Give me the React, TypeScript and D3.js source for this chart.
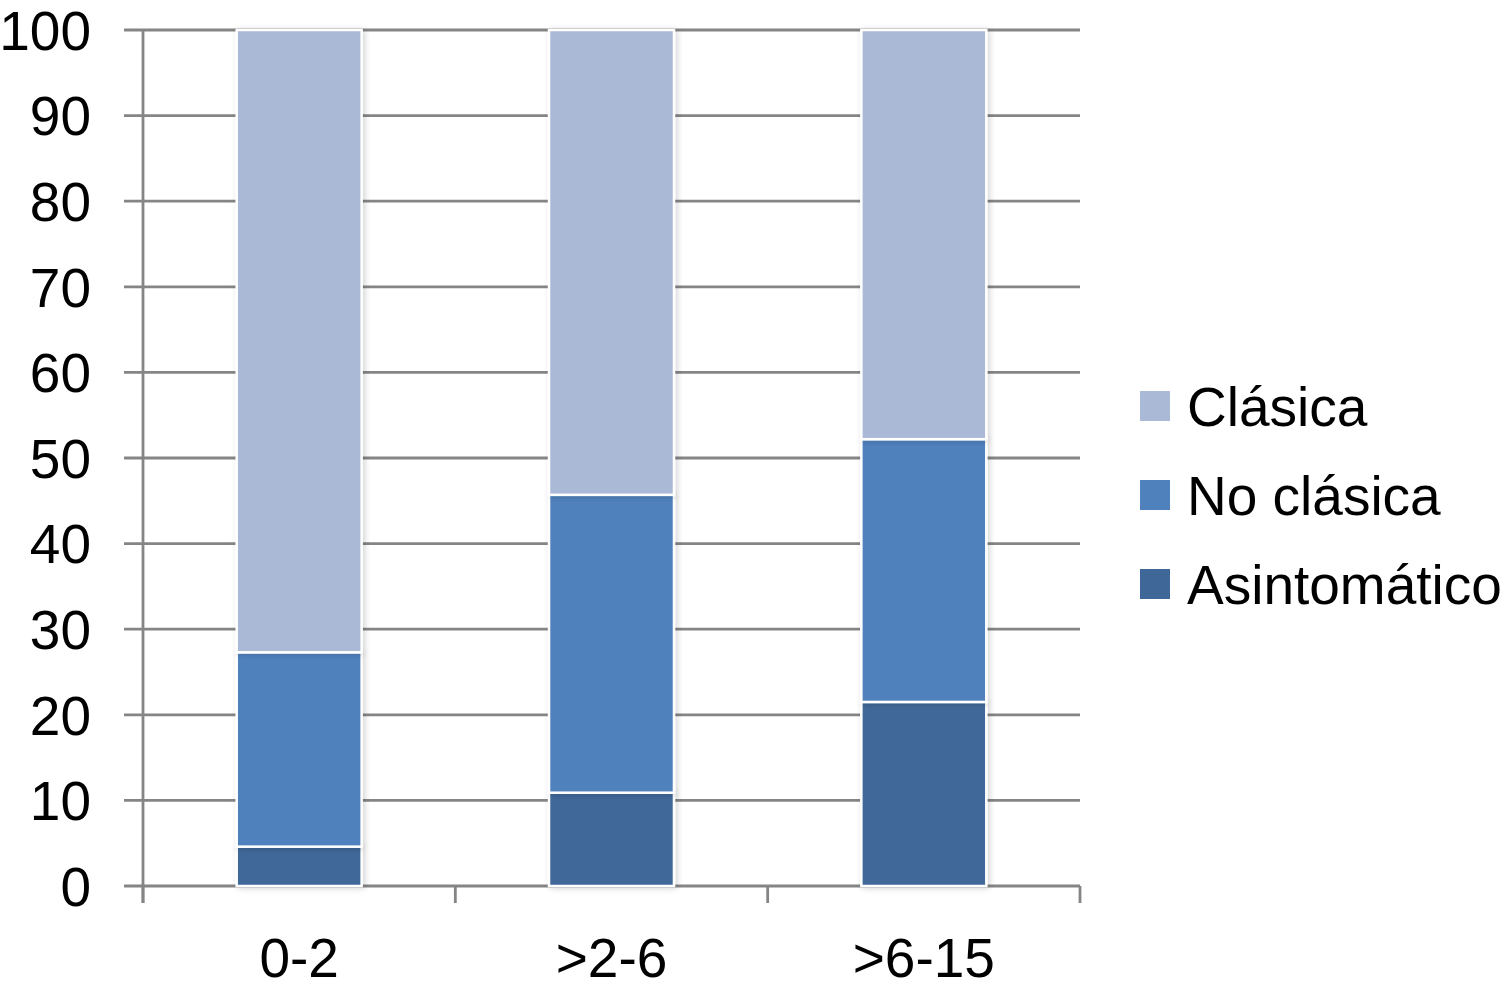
import React from "react";
import * as d3 from "d3";

const categories = ["0-2", ">2-6", ">6-15"];
const seriesNames = ["Asintomático", "No clásica", "Clásica"];
const asintomatico = [4.6, 10.9, 21.5];
const noClasica = [22.7, 34.8, 30.7];
const clasica = [72.7, 54.3, 47.8];
const yTicks = [0, 10, 20, 30, 40, 50, 60, 70, 80, 90, 100];
const colors = ["#3F6899", "#4F81BD", "#AAB9D6"];
const legendOrder = ["Clásica", "No clásica", "Asintomático"];

export default function App() {
  const W = 1504, H = 991;
  const left = 143, right = 1080, top = 30, bottom = 886;
  const x = d3.scaleBand().domain(categories).range([left, right]).paddingInner(0).paddingOuter(0);
  const y = d3.scaleLinear().domain([0, 100]).range([bottom, top]);
  const rows = categories.map((c, i) => ({
    cat: c,
    "Asintomático": asintomatico[i],
    "No clásica": noClasica[i],
    "Clásica": clasica[i],
  }));
  const stacked = d3.stack<any>().keys(seriesNames)(rows);
  const bw = x.bandwidth() * 0.4;
  const font = "'Liberation Sans', Arial, Helvetica, sans-serif";
  const grid = "#858585";
  const bounds = [...categories.map((c) => x(c)!), right];
  const fs = 55;

  return (
    <svg width={W} height={H} style={{ position: "absolute", left: 0, top: 0 }}>
      <defs>
        <filter id="sh" x="-10%" y="-5%" width="120%" height="110%">
          <feGaussianBlur in="SourceAlpha" stdDeviation="3" />
          <feOffset dx="2" dy="1" />
          <feComponentTransfer><feFuncA type="linear" slope="0.18" /></feComponentTransfer>
          <feMerge><feMergeNode /><feMergeNode in="SourceGraphic" /></feMerge>
        </filter>
      </defs>
      <rect width={W} height={H} fill="#fff" />
      {yTicks.map((t) => (
        <g key={t}>
          <line x1={124} x2={right} y1={y(t)} y2={y(t)} stroke={grid} strokeWidth={2.8} />
          <text x={91} y={y(t)} dy="0.36em" textAnchor="end" fontFamily={font} fontSize={fs} fill="#000">{t}</text>
        </g>
      ))}
      <line x1={left} x2={left} y1={top} y2={903} stroke={grid} strokeWidth={2.8} />
      {bounds.map((b, i) => (
        <line key={i} x1={b} x2={b} y1={bottom} y2={903} stroke={grid} strokeWidth={2.8} />
      ))}
      {stacked.map((s, si) => (
        <g key={s.key} filter="url(#sh)">
          {s.map((d, i) => {
            const cx = x(categories[i])! + x.bandwidth() / 2;
            return (
              <rect key={i} x={cx - bw / 2} y={y(d[1])} width={bw} height={y(d[0]) - y(d[1])}
                fill={colors[si]} stroke="#fff" strokeWidth={2.5} />
            );
          })}
        </g>
      ))}
      {categories.map((c) => (
        <text key={c} x={x(c)! + x.bandwidth() / 2} y={977} textAnchor="middle" fontFamily={font} fontSize={fs} fill="#000">{c}</text>
      ))}
      {legendOrder.map((name, i) => {
        const ly = 406 + i * 89;
        const ci = seriesNames.indexOf(name);
        return (
          <g key={name}>
            <rect x={1140} y={ly - 15} width={30} height={30} fill={colors[ci]} />
            <text x={1187} y={ly} dy="0.36em" fontFamily={font} fontSize={fs} fill="#000">{name}</text>
          </g>
        );
      })}
    </svg>
  );
}
